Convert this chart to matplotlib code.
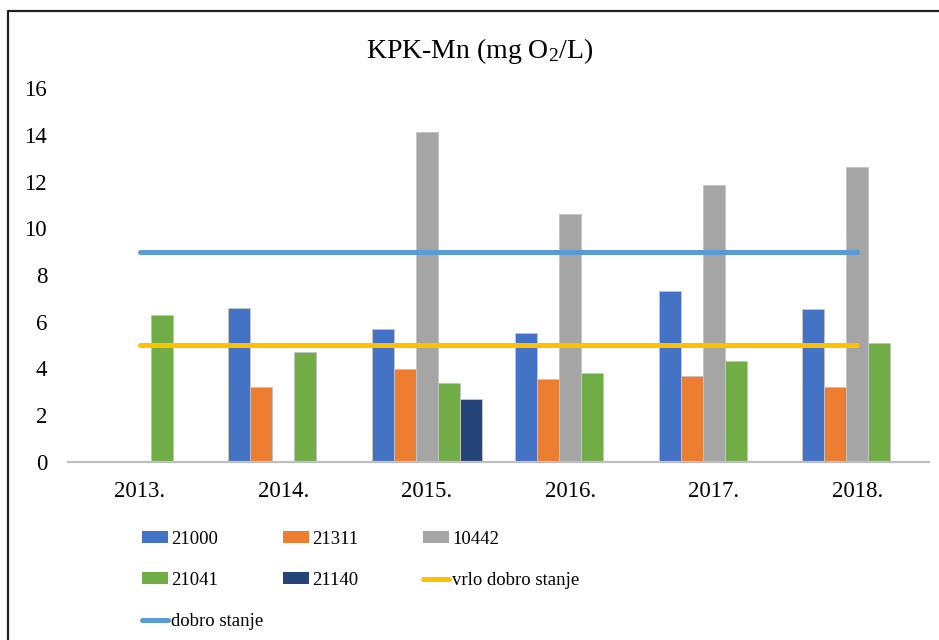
import numpy as np
import matplotlib
matplotlib.use("Agg")
import matplotlib.pyplot as plt
from matplotlib.lines import Line2D
from matplotlib.patches import Patch

plt.rcParams['font.family'] = ['Liberation Serif', 'DejaVu Serif']
plt.rcParams['mathtext.fontset'] = 'custom'
plt.rcParams['mathtext.rm'] = 'Liberation Serif'

years = ['2013.', '2014.', '2015.', '2016.', '2017.', '2018.']
stations = ['21000', '21311', '10442', '21041', '21140']
s21000 = [np.nan, 6.6, 5.7, 5.5, 7.3, 6.55]
s21311 = [np.nan, 3.2, 4.0, 3.55, 3.7, 3.2]
s10442 = [np.nan, np.nan, 14.1, 10.6, 11.85, 12.6]
s21041 = [6.3, 4.7, 3.4, 3.8, 4.3, 5.1]
s21140 = [np.nan, np.nan, 2.7, np.nan, np.nan, np.nan]
vrlo_dobro = [5, 5, 5, 5, 5, 5]
dobro = [9, 9, 9, 9, 9, 9]

bar_colors = ['#4472C4', '#ED7D31', '#A5A5A5', '#70AD47', '#264478']
yellow = '#FFC000'
lightblue = '#5B9BD5'

W, H = 939, 640
fig = plt.figure(figsize=(W / 100, H / 100), dpi=100)
ax = fig.add_axes([68 / W, 1 - 462 / H, (929 - 68) / W, (462 - 88) / H])

x = np.arange(len(years))
bw = 0.153
series = [s21000, s21311, s10442, s21041, s21140]
for i, vals in enumerate(series):
    ax.bar(x + (i - 2) * bw, vals, bw, color=bar_colors[i],
           edgecolor='#c4c4c4', linewidth=0.7, zorder=2)

ax.plot(x, vrlo_dobro, color=yellow, lw=3.6, solid_capstyle='round', zorder=3)
ax.plot(x, dobro, color=lightblue, lw=3.6, solid_capstyle='round', zorder=3)

ax.set_xlim(-0.5, len(years) - 0.5)
ax.set_ylim(0, 16)
ax.set_yticks(range(0, 17, 2))
ax.set_xticks(x)
ax.set_xticklabels(years)
ax.tick_params(axis='both', length=0, labelsize=16.5)
ax.tick_params(axis='x', pad=14)
ax.tick_params(axis='y', pad=15)
for s in ['top', 'right', 'left']:
    ax.spines[s].set_visible(False)
ax.spines['bottom'].set_color('#bfbfbf')
ax.spines['bottom'].set_linewidth(1.6)
ax.spines['bottom'].set_zorder(4)

fig.text(480 / W, 1 - 51 / H, r'KPK-Mn (mg O$\mathregular{_2}$/L)',
         ha='center', va='center', fontsize=20)

# legend, laid out row by row like the original
def patch(c):
    return Patch(facecolor=c, edgecolor='none')

def line(c):
    return Line2D([0], [0], color=c, lw=3.6, solid_capstyle='round')

cols = [
    ([patch(bar_colors[0]), patch(bar_colors[3]), line(lightblue)],
     [stations[0], stations[3], 'dobro stanje'], 142),
    ([patch(bar_colors[1]), patch(bar_colors[4])],
     [stations[1], stations[4]], 283),
    ([patch(bar_colors[2]), line(yellow)],
     [stations[2], 'vrlo dobro stanje'], 423),
]
for handles, labels, xpx in cols:
    leg = fig.legend(handles, labels, loc='upper left',
                     bbox_to_anchor=(xpx / W, 1 - 531 / H),
                     frameon=False, fontsize=13.5, borderpad=0, borderaxespad=0,
                     handlelength=1.4, handleheight=0.6, handletextpad=0.15,
                     labelspacing=1.28)

# chart border (left and top only visible)
fig.add_artist(Line2D([8 / W, 8 / W, 1], [0, 1 - 11 / H, 1 - 11 / H],
                      color='#222222', lw=1.6, transform=fig.transFigure))

fig.savefig('out.png', dpi=100)
